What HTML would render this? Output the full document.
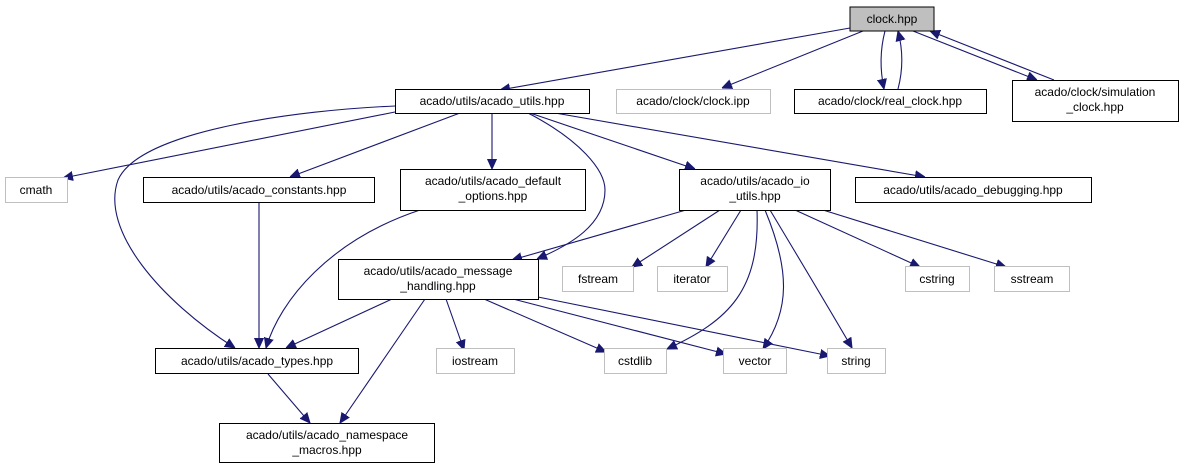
<!DOCTYPE html>
<html><head><meta charset="utf-8"><style>
html,body{margin:0;padding:0;background:#fff;}
svg{display:block;}
text{font-family:"Liberation Sans",sans-serif;font-size:12px;fill:#000;}
.n{fill:#fff;stroke:#000;stroke-width:1;}
.g{fill:#fff;stroke:#bfbfbf;stroke-width:1;}
.e{fill:none;stroke:#191970;stroke-width:1.1;}
</style></head><body>
<svg width="1184" height="469" viewBox="0 0 1184 469" xmlns="http://www.w3.org/2000/svg">
<defs>
<marker id="a" viewBox="0 0 10 10" refX="10" refY="5" markerWidth="10" markerHeight="10" markerUnits="userSpaceOnUse" orient="auto">
<path d="M0,0.5 L10,5 L0,9.5 z" fill="#191970" stroke="#191970"/>
</marker>
</defs>
<g class="e">
<!-- clock.hpp edges -->
<path d="M850,28 L500,90" marker-end="url(#a)"/>
<path d="M863,31 L722,88" marker-end="url(#a)"/>
<path d="M885,31 C880,50 880,70 884,89" marker-end="url(#a)"/>
<path d="M898,89 C903,70 903,50 898,31" marker-end="url(#a)"/>
<path d="M913,31 L1037,80" marker-end="url(#a)"/>
<path d="M1054,80 L930,31" marker-end="url(#a)"/>
<!-- acado_utils edges -->
<path d="M395,112 L63,178" marker-end="url(#a)"/>
<path d="M395,106 C300,110 140,130 118,180 C100,230 160,300 235,348" marker-end="url(#a)"/>
<path d="M460,113 L290,177" marker-end="url(#a)"/>
<path d="M492,113 L492,169" marker-end="url(#a)"/>
<path d="M528,113 C580,140 605,170 605,190 C605,225 570,245 537,259" marker-end="url(#a)"/>
<path d="M530,113 L695,169" marker-end="url(#a)"/>
<path d="M555,113 L925,177" marker-end="url(#a)"/>
<!-- constants, default -->
<path d="M259,203 L259,348" marker-end="url(#a)"/>
<path d="M420,210 C330,240 280,300 266,348" marker-end="url(#a)"/>
<!-- message handling -->
<path d="M392,299 L286,348" marker-end="url(#a)"/>
<path d="M425,299 L340,423" marker-end="url(#a)"/>
<path d="M446,299 L464,350" marker-end="url(#a)"/>
<path d="M484,299 L606,352" marker-end="url(#a)"/>
<path d="M513,299 L726,354" marker-end="url(#a)"/>
<path d="M538,297 L830,356" marker-end="url(#a)"/>
<!-- io utils -->
<path d="M686,210 L512,260" marker-end="url(#a)"/>
<path d="M720,210 L632,267" marker-end="url(#a)"/>
<path d="M741,210 L706,267" marker-end="url(#a)"/>
<path d="M757,210 C760,290 730,320 667,349" marker-end="url(#a)"/>
<path d="M765,210 C790,270 790,310 763,349" marker-end="url(#a)"/>
<path d="M770,210 C800,260 830,310 852,348" marker-end="url(#a)"/>
<path d="M795,210 L920,267" marker-end="url(#a)"/>
<path d="M823,210 L1006,267" marker-end="url(#a)"/>
<!-- types -->
<path d="M268,374 L310,423" marker-end="url(#a)"/>
</g>
<!-- nodes -->
<rect x="850" y="7" width="84" height="24" fill="#bfbfbf" stroke="#000"/>
<text x="892" y="23" text-anchor="middle">clock.hpp</text>
<rect class="n" x="395.5" y="89.5" width="194" height="24"/>
<text x="492" y="105" text-anchor="middle">acado/utils/acado_utils.hpp</text>
<rect class="g" x="616.5" y="89.5" width="154" height="24"/>
<text x="693" y="105" text-anchor="middle">acado/clock/clock.ipp</text>
<rect class="n" x="794.5" y="89.5" width="192" height="24"/>
<text x="890" y="105" text-anchor="middle">acado/clock/real_clock.hpp</text>
<rect class="n" x="1012.5" y="80.5" width="166" height="41"/>
<text x="1095" y="96" text-anchor="middle">acado/clock/simulation</text>
<text x="1095" y="111" text-anchor="middle">_clock.hpp</text>
<rect class="g" x="5.5" y="177.5" width="62" height="25"/>
<text x="36" y="194" text-anchor="middle">cmath</text>
<rect class="n" x="143.5" y="177.5" width="231" height="25"/>
<text x="259" y="194" text-anchor="middle">acado/utils/acado_constants.hpp</text>
<rect class="n" x="400.5" y="169.5" width="185" height="41"/>
<text x="493" y="185" text-anchor="middle">acado/utils/acado_default</text>
<text x="493" y="200" text-anchor="middle">_options.hpp</text>
<rect class="n" x="679.5" y="169.5" width="151" height="41"/>
<text x="755" y="185" text-anchor="middle">acado/utils/acado_io</text>
<text x="755" y="200" text-anchor="middle">_utils.hpp</text>
<rect class="n" x="855.5" y="177.5" width="236" height="25"/>
<text x="973" y="194" text-anchor="middle">acado/utils/acado_debugging.hpp</text>
<rect class="n" x="338.5" y="259.5" width="200" height="40"/>
<text x="438" y="275" text-anchor="middle">acado/utils/acado_message</text>
<text x="438" y="290" text-anchor="middle">_handling.hpp</text>
<rect class="g" x="562.5" y="266.5" width="71" height="25"/>
<text x="598" y="283" text-anchor="middle">fstream</text>
<rect class="g" x="657.5" y="266.5" width="70" height="25"/>
<text x="692" y="283" text-anchor="middle">iterator</text>
<rect class="g" x="905.5" y="266.5" width="64" height="25"/>
<text x="937" y="283" text-anchor="middle">cstring</text>
<rect class="g" x="994.5" y="266.5" width="75" height="25"/>
<text x="1032" y="283" text-anchor="middle">sstream</text>
<rect class="n" x="155.5" y="348.5" width="203" height="25"/>
<text x="257" y="365" text-anchor="middle">acado/utils/acado_types.hpp</text>
<rect class="g" x="436.5" y="348.5" width="78" height="25"/>
<text x="475" y="365" text-anchor="middle">iostream</text>
<rect class="g" x="604.5" y="348.5" width="62" height="25"/>
<text x="635" y="365" text-anchor="middle">cstdlib</text>
<rect class="g" x="723.5" y="348.5" width="63" height="25"/>
<text x="755" y="365" text-anchor="middle">vector</text>
<rect class="g" x="827.5" y="348.5" width="58" height="25"/>
<text x="856" y="365" text-anchor="middle">string</text>
<rect class="n" x="219.5" y="423.5" width="215" height="39"/>
<text x="327" y="439" text-anchor="middle">acado/utils/acado_namespace</text>
<text x="327" y="454" text-anchor="middle">_macros.hpp</text>
</svg>
</body></html>
